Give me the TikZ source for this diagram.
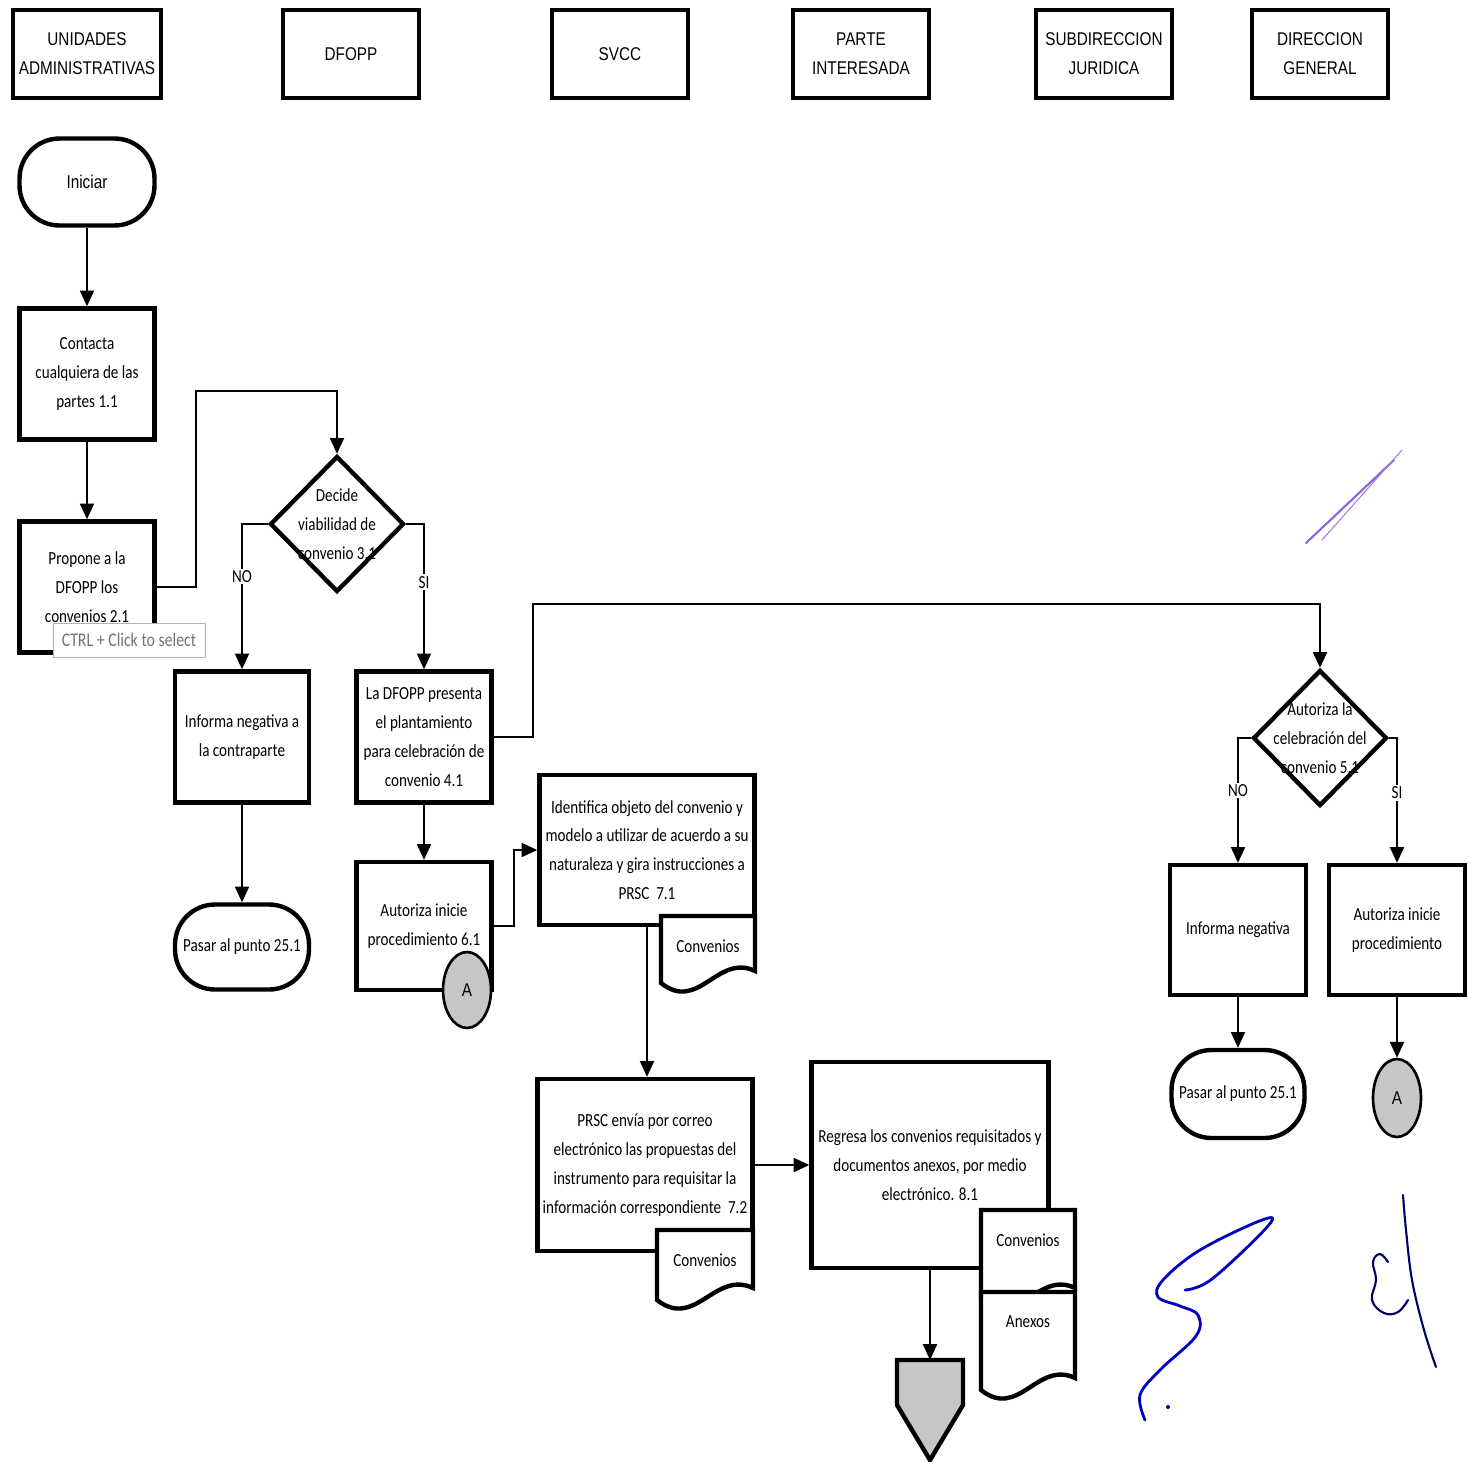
\documentclass[tikz,border=0pt]{standalone}
\usepackage{fontspec}
\setmainfont{Carlito}
\newfontfamily\hdrfont[FakeStretch=0.83]{Liberation Sans}
\newfontfamily\bodyfont[FakeStretch=0.82]{Carlito}
\usetikzlibrary{arrows.meta,shapes.geometric,positioning}

% hoja de documento con borde ondulado: nombre, izq, arriba, der, abajo, texto
\newcommand{\docsheet}[6]{%
  \draw[docline] (#2,#3) -- (#4,#3) -- (#4,#5-12)
    .. controls ({#4-0.4*(#4-#2)},#5-30) and ({#2+0.4*(#4-#2)},#5+30) .. (#2,#5) -- cycle;
  \node[doctext] (#1) at ({(#2+#4)/2},#3+30) {#6};}

\tikzset{
  header/.style={draw, line width=2.5pt, minimum width=2.72cm, minimum height=1.76cm,
    align=center, font=\hdrfont\fontsize{10.5}{16.4}\selectfont},
  proc/.style={draw, line width=2.5pt, minimum width=2.7cm, minimum height=2.62cm,
    align=center, inner sep=1pt, font=\bodyfont\fontsize{10.5}{16.4}\selectfont},
  term/.style={draw, line width=2.5pt, rounded corners=0.8cm, minimum width=2.7cm,
    minimum height=1.74cm, align=center, font=\bodyfont\fontsize{10.5}{16.4}\selectfont},
  decision/.style={draw, diamond, line width=2.5pt, inner sep=0pt,
    minimum width=2.68cm, minimum height=2.72cm},
  dtext/.style={align=center, font=\bodyfont\fontsize{10.5}{16.4}\selectfont},
  conn/.style={draw, ellipse, line width=1.5pt, fill=gray!45, minimum width=0.96cm,
    minimum height=1.52cm, inner sep=0pt, font=\hdrfont\fontsize{10.5}{12}\selectfont},
  flow/.style={line width=1.1pt, -{Triangle[length=9pt,width=8pt]}},
  tag/.style={fill=white, inner sep=1pt, font=\bodyfont\fontsize{10.5}{12}\selectfont},
  docline/.style={line width=2.5pt, fill=white},
  doctext/.style={font=\bodyfont\fontsize{10.5}{12}\selectfont},
  firma/.style={draw=blue!75!black, line width=1.6pt, line cap=round, line join=round},
}

\begin{document}
\begin{tikzpicture}[x=0.02cm, y=-0.02cm]
  \useasboundingbox[fill=white] (0,0) rectangle (1471,1461);

  % encabezados
  \node[header] (ua) at (87,54) {UNIDADES\\ADMINISTRATIVAS};
  \node[header] (dfopp) at (351,54) {DFOPP};
  \node[header] (svcc) at (620,54) {SVCC};
  \node[header] (parte) at (861,54) {PARTE\\INTERESADA};
  \node[header] (subjur) at (1104,54) {SUBDIRECCION\\JURIDICA};
  \node[header] (dirgen) at (1320,54) {DIRECCION\\GENERAL};

  % unidades administrativas
  \node[term, font=\hdrfont\fontsize{10.5}{16.4}\selectfont] (iniciar) at (87,182) {Iniciar};
  \node[proc] (contacta) at (87,374) {Contacta\\cualquiera de las\\partes 1.1};
  \node[proc] (propone) at (87,587) {Propone a la\\DFOPP los\\convenios 2.1};
  \draw[flow] (iniciar) -- (contacta);
  \draw[flow] (contacta) -- (propone);

  % dfopp
  \node[decision, label={[dtext]center:{Decide\\viabilidad de\\convenio 3.1}}] (decide) at (337,524) {};
  \node[proc, minimum width=2.68cm] (infneg) at (242,737) {Informa negativa a\\la contraparte};
  \node[term, minimum width=2.68cm, minimum height=1.7cm] (pasar1) at (242,947) {Pasar al punto 25.1};
  \node[proc] (presenta) at (424,737) {La DFOPP presenta\\el plantamiento\\para celebración de\\convenio 4.1};
  \node[proc, minimum height=2.56cm] (aut6) at (424,926) {Autoriza inicie\\procedimiento 6.1};
  \draw[flow] (propone.east) -| ++(39,-196) -| (decide.north);
  \draw[flow] (decide.west) -| node[tag, pos=0.68] {NO} (infneg.north);
  \draw[flow] (decide.east) -| node[tag, pos=0.70] {SI} (presenta.north);
  \draw[flow] (infneg) -- (pasar1);
  \draw[flow] (presenta) -- (aut6);
  \node[conn] (a1) at (467,990) {A};

  % svcc
  \node[proc, minimum width=4.3cm, minimum height=3cm] (identifica) at (647,850)
    {Identifica objeto del convenio y\\modelo a utilizar de acuerdo a su\\naturaleza y gira instrucciones a\\PRSC~~7.1};
  \node[proc, minimum width=4.3cm, minimum height=3.44cm] (prsc) at (645,1165)
    {PRSC envía por correo\\electrónico las propuestas del\\instrumento para requisitar la\\información correspondiente~~7.2};
  \draw[flow] (aut6.east) -- ++(20,0) |- (identifica.west);
  \draw[flow] (identifica.south) -- (identifica.south |- prsc.north);
  \docsheet{doc1}{661}{916}{755}{983}{Convenios}
  \docsheet{doc2}{657}{1230}{753}{1300}{Convenios}

  % parte interesada
  \node[proc, minimum width=4.74cm, minimum height=4.12cm] (regresa) at (930,1165)
    {Regresa los convenios requisitados y\\documentos anexos, por medio\\electrónico. 8.1};
  \draw[flow] (prsc.east) -- (regresa.west);
  \coordinate (offpage) at (930,1360);
  \draw[flow] (regresa.south) -- (offpage);
  \draw[line width=2.5pt, fill=gray!45] (offpage) ++(-33,0) -- ++(66,0) -- ++(0,45)
    -- ++(-33,55) -- ++(-33,-55) -- cycle;
  \docsheet{doc3}{981}{1210}{1075}{1300}{Convenios}
  \docsheet{doc4}{981}{1292}{1075}{1390}{Anexos}

  % direccion general
  \node[decision, label={[dtext]center:{Autoriza la\\celebración del\\convenio 5.1}}] (aut5) at (1320,738) {};
  \node[proc, minimum width=2.72cm, minimum height=2.6cm] (infneg2) at (1238,930) {Informa negativa};
  \node[proc, minimum width=2.72cm, minimum height=2.6cm] (autproc) at (1397,930) {Autoriza inicie\\procedimiento};
  \node[term, minimum width=2.66cm, minimum height=1.76cm] (pasar2) at (1238,1094) {Pasar al punto 25.1};
  \node[conn, minimum height=1.56cm] (a2) at (1397,1098) {A};
  \draw[flow] (presenta.east) -| ++(39,-133) -| (aut5.north);
  \draw[flow] (aut5.west) -| node[tag, pos=0.71] {NO} (infneg2.north);
  \draw[flow] (aut5.east) -| node[tag, pos=0.72] {SI} (autproc.north);
  \draw[flow] (infneg2) -- (pasar2);
  \draw[flow] (autproc) -- (a2);

  % aviso de pantalla
  \node[draw=gray!60, fill=white, text=gray!90!black, minimum width=3.04cm, minimum height=0.68cm,
    inner sep=1pt, font=\bodyfont\fontsize{11}{12}\selectfont] (aviso) at (129,640) {CTRL + Click to select};

  % firmas
  \draw[firma, draw=blue!50!violet!60, line width=1.2pt] (1306,543) -- (1394,460);
  \draw[firma, draw=blue!50!violet!50, line width=0.6pt] (1322,540) -- (1402,450);
  \draw[firma] plot[smooth, tension=0.6] coordinates {(1185,1290) (1212,1279) (1268,1226)
    (1262,1220) (1200,1250) (1163,1280) (1158,1297) (1180,1306) (1198,1315) (1196,1336)
    (1160,1370) (1140,1395) (1145,1420)};
  \fill[blue!75!black] (1168,1407) circle (2);
  \draw[firma, line width=1.2pt, draw=blue!40!black] plot[smooth, tension=0.6] coordinates {(1403,1195)
    (1406,1230) (1412,1280) (1424,1330) (1436,1367)};
  \draw[firma, line width=1.2pt, draw=blue!40!black] plot[smooth, tension=0.7] coordinates {(1388,1262)
    (1380,1254) (1373,1262) (1376,1280) (1372,1300) (1384,1313) (1398,1312) (1408,1300)};
\end{tikzpicture}
\end{document}
